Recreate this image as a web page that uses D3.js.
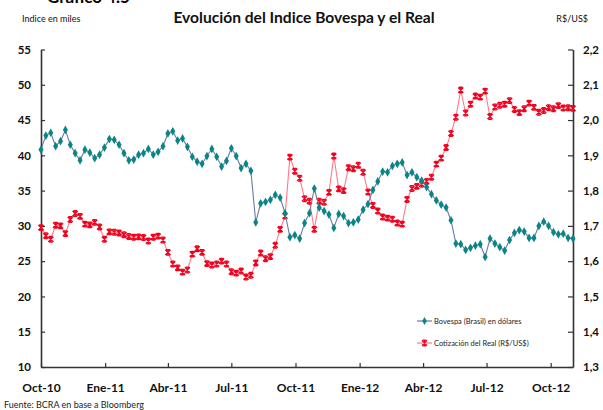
<!DOCTYPE html>
<html>
<head>
<meta charset="utf-8">
<script src="https://cdn.jsdelivr.net/npm/d3@7"></script>
<style>
  html, body { margin: 0; padding: 0; background: #fff; }
  svg { display: block; }
</style>
</head>
<body>
<svg id="chart" width="603" height="410"></svg>
<script>
// ---------------- DATA ----------------
const dates = [
  "2010-10-01","2010-10-08","2010-10-15","2010-10-22","2010-10-29","2010-11-05","2010-11-12","2010-11-19","2010-11-26",
  "2010-12-03","2010-12-10","2010-12-17","2010-12-24","2010-12-31",
  "2011-01-07","2011-01-14","2011-01-21","2011-01-28","2011-02-04","2011-02-11","2011-02-18","2011-02-25",
  "2011-03-04","2011-03-11","2011-03-18","2011-03-25","2011-04-01","2011-04-08","2011-04-15","2011-04-22","2011-04-29",
  "2011-05-06","2011-05-13","2011-05-20","2011-05-27","2011-06-03","2011-06-10","2011-06-17","2011-06-24",
  "2011-07-01","2011-07-08","2011-07-15","2011-07-22","2011-07-29","2011-08-05","2011-08-12","2011-08-19","2011-08-26",
  "2011-09-02","2011-09-09","2011-09-16","2011-09-23","2011-09-30","2011-10-07","2011-10-14","2011-10-21","2011-10-28",
  "2011-11-04","2011-11-11","2011-11-18","2011-11-25","2011-12-02","2011-12-09","2011-12-16","2011-12-23","2011-12-30",
  "2012-01-06","2012-01-13","2012-01-20","2012-01-27","2012-02-03","2012-02-10","2012-02-17","2012-02-24",
  "2012-03-02","2012-03-09","2012-03-16","2012-03-23","2012-03-30","2012-04-06","2012-04-13","2012-04-20","2012-04-27",
  "2012-05-04","2012-05-11","2012-05-18","2012-05-25","2012-06-01","2012-06-08","2012-06-15","2012-06-22","2012-06-29",
  "2012-07-06","2012-07-13","2012-07-20","2012-07-27","2012-08-03","2012-08-10","2012-08-17","2012-08-24","2012-08-31",
  "2012-09-07","2012-09-14","2012-09-21","2012-09-28","2012-10-05","2012-10-12","2012-10-19","2012-10-26","2012-11-02"
];

// Bovespa (Brasil) en dólares, miles de puntos (eje izquierdo)
const bovespa = [
  40.8, 42.8, 43.2, 41.3, 42.0, 43.6, 41.5, 40.3, 39.3, 40.8, 40.4, 39.6, 40.1, 41.1,
  42.3, 42.2, 41.5, 40.3, 39.3, 39.4, 40.1, 40.3, 40.9, 40.1, 40.5, 41.3, 43.1, 43.4, 42.1, 42.4, 41.2,
  39.8, 39.1, 38.8, 39.9, 40.9, 39.8, 38.4, 39.2, 41.0, 39.9, 38.2, 38.8, 37.8, 30.5, 33.2, 33.4, 33.7,
  34.4, 34.0, 31.8, 28.4, 28.7, 28.2, 30.4, 31.8, 35.3, 32.6, 32.1, 31.6, 29.7, 31.7, 31.4, 30.4, 30.5, 30.9,
  32.3, 33.1, 35.1, 36.3, 37.7, 37.6, 38.5, 38.8, 39.0, 37.2, 37.6, 36.9, 36.4, 35.5, 34.5, 33.6, 33.0,
  32.6, 30.8, 27.5, 27.4, 26.6, 26.9, 27.2, 27.4, 25.6, 28.2, 27.5, 27.0, 26.5, 28.0, 29.0, 29.4, 29.2,
  28.3, 28.3, 30.0, 30.6, 30.0, 29.1, 28.8, 28.9, 28.3, 28.2
];

// Cotización del Real, R$/US$ (eje derecho)
const real = [
  1.695, 1.672, 1.662, 1.702, 1.700, 1.678, 1.718, 1.735, 1.727, 1.705, 1.703, 1.710, 1.697, 1.662,
  1.683, 1.682, 1.680, 1.675, 1.670, 1.668, 1.669, 1.667, 1.657, 1.668, 1.671, 1.660, 1.625, 1.592, 1.581, 1.569, 1.575,
  1.620, 1.635, 1.625, 1.593, 1.589, 1.592, 1.600, 1.592, 1.570, 1.566, 1.572, 1.555, 1.560, 1.595, 1.623, 1.607, 1.613,
  1.645, 1.690, 1.728, 1.895, 1.855, 1.835, 1.777, 1.770, 1.690, 1.770, 1.767, 1.795, 1.898, 1.805, 1.800, 1.865, 1.862, 1.872,
  1.852, 1.796, 1.758, 1.742, 1.725, 1.722, 1.719, 1.708, 1.705, 1.775, 1.806, 1.812, 1.818, 1.826, 1.838, 1.875, 1.892,
  1.922, 1.962, 2.008, 2.085, 2.020, 2.045, 2.068, 2.065, 2.082, 2.010, 2.037, 2.042, 2.045, 2.055, 2.030, 2.021, 2.032,
  2.048, 2.036, 2.022, 2.027, 2.035, 2.032, 2.041, 2.034, 2.035, 2.033
];

const leftTicks = [10, 15, 20, 25, 30, 35, 40, 45, 50, 55];
const rightTicks = [1.3, 1.4, 1.5, 1.6, 1.7, 1.8, 1.9, 2.0, 2.1, 2.2];
const xTickDates = ["2010-10-01","2011-01-01","2011-04-01","2011-07-01","2011-10-01","2012-01-01","2012-04-01","2012-07-01","2012-10-01"];
const xTickLabels = ["Oct-10","Ene-11","Abr-11","Jul-11","Oct-11","Ene-12","Abr-12","Jul-12","Oct-12"];
const domainDates = ["2010-10-01", "2012-11-02"];
const seriesNames = ["Bovespa (Brasil) en dólares", "Cotización del Real (R$/US$)"];

// ---------------- CHART ----------------
(function () {
const parse = d3.utcParse("%Y-%m-%d");
const svg = d3.select("#chart");
const FONT = "Lato, 'Open Sans', 'DejaVu Sans', sans-serif";

const pL = 41, pR = 573, pT = 49.5, pB = 367;

const x = d3.scaleUtc().domain(domainDates.map(parse)).range([pL, pR]);
const yL = d3.scaleLinear().domain([10, 55]).range([pB, pT]);
const yR = d3.scaleLinear().domain([1.3, 2.2]).range([pB, pT]);

const bovData = dates.map((d, i) => ({ date: parse(d), v: bovespa[i] }));
const realData = dates.map((d, i) => ({ date: parse(d), v: real[i] }));

// Top heading (cut off by the page edge, as in the original)
svg.append("text").attr("x", 47).attr("y", 3)
  .attr("font-family", FONT).attr("font-weight", "bold").attr("font-size", 17)
  .attr("fill", "#000").text("Gráfico 4.5");

// Title
svg.append("text").attr("x", 304).attr("y", 23).attr("text-anchor", "middle")
  .attr("font-family", FONT).attr("font-weight", "bold").attr("font-size", 15.6)
  .attr("fill", "#111").text("Evolución del Indice Bovespa y el Real");

svg.append("text").attr("x", 22).attr("y", 22)
  .attr("font-family", FONT).attr("font-size", 9).attr("fill", "#111").text("Indice en miles");
svg.append("text").attr("x", 588).attr("y", 22).attr("text-anchor", "end")
  .attr("font-family", FONT).attr("font-size", 9).attr("fill", "#111").text("R$/US$");

// Footer
svg.append("text").attr("x", 4).attr("y", 408)
  .attr("font-family", FONT).attr("font-size", 9).attr("fill", "#222").text("Fuente: BCRA en base a Bloomberg");

const fmtComma = d => d3.format(".1f")(d).replace(".", ",");

// Axes
const axL = svg.append("g").attr("transform", `translate(${pL},0)`)
  .call(d3.axisLeft(yL).tickValues(leftTicks).tickSizeInner(-4).tickSizeOuter(0).tickPadding(10));
const axR = svg.append("g").attr("transform", `translate(${pR},0)`)
  .call(d3.axisRight(yR).tickValues(rightTicks).tickFormat(fmtComma).tickSizeInner(-5).tickSizeOuter(0).tickPadding(10));
const axB = svg.append("g").attr("transform", `translate(0,${pB})`)
  .call(d3.axisBottom(x).tickValues(xTickDates.map(parse)).tickFormat((d, i) => xTickLabels[i])
    .tickSizeInner(-4).tickSizeOuter(0).tickPadding(16));

[axL, axR, axB].forEach(g => {
  g.select(".domain").attr("stroke", "#333").attr("stroke-width", 1.6);
  g.selectAll(".tick line").attr("stroke", "#333").attr("stroke-width", 1.2);
  g.selectAll(".tick text").attr("font-family", FONT).attr("font-weight", "bold")
    .attr("font-size", 11.5).attr("fill", "#111");
});
axB.selectAll(".tick text").attr("font-size", 12);

// Real series
const lineR = d3.line().x(d => x(d.date)).y(d => yR(d.v));
svg.append("path").datum(realData).attr("d", lineR)
  .attr("fill", "none").attr("stroke", "#ff7a88").attr("stroke-width", 1.1);

const starPath = "M-2.6,-2.6L2.6,2.6M-2.6,2.6L2.6,-2.6M0,-2.8L0,2.8M-1.8,-2.8L1.8,-2.8M-1.8,2.8L1.8,2.8";
svg.append("g").selectAll("path").data(realData).join("path")
  .attr("transform", d => `translate(${x(d.date)},${yR(d.v)})`)
  .attr("d", starPath).attr("fill", "none").attr("stroke", "#f0001c").attr("stroke-width", 1.3);

// Bovespa series
const lineB = d3.line().x(d => x(d.date)).y(d => yL(d.v));
svg.append("path").datum(bovData).attr("d", lineB)
  .attr("fill", "none").attr("stroke", "#6a7aa6").attr("stroke-width", 1.1);
svg.append("g").selectAll("path").data(bovData).join("path")
  .attr("transform", d => `translate(${x(d.date)},${yL(d.v)})`)
  .attr("d", d3.symbol().type(d3.symbolDiamond).size(22)).attr("fill", "#0a8585");

// Legend
const lg = svg.append("g");
const legendRows = [
  { name: seriesNames[0], y: 321, line: "#6a7aa6", kind: "b" },
  { name: seriesNames[1], y: 343, line: "#ff7a88", kind: "r" }
];
legendRows.forEach(r => {
  lg.append("line").attr("x1", 417).attr("x2", 432).attr("y1", r.y).attr("y2", r.y)
    .attr("stroke", r.line).attr("stroke-width", 1.2);
  if (r.kind === "b") {
    lg.append("path").attr("transform", `translate(424.5,${r.y})`)
      .attr("d", d3.symbol().type(d3.symbolDiamond).size(18)).attr("fill", "#0a8585");
  } else {
    lg.append("path").attr("transform", `translate(424.5,${r.y})`)
      .attr("d", starPath).attr("fill", "none").attr("stroke", "#f0001c").attr("stroke-width", 1.2);
  }
  lg.append("text").attr("x", 434).attr("y", r.y + 2.8)
    .attr("font-family", FONT).attr("font-size", 7.5).attr("fill", "#222").text(r.name);
});
})();
</script>
</body>
</html>
